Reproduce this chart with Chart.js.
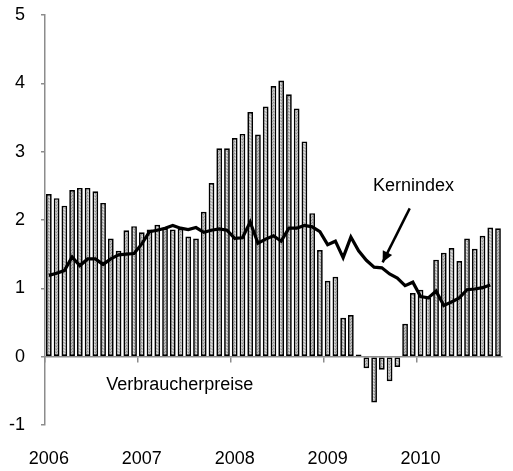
<!DOCTYPE html>
<html>
<head>
<meta charset="utf-8">
<script src="https://cdn.jsdelivr.net/npm/chart.js@4.4.1/dist/chart.umd.min.js"></script>
<style>
  html, body { margin: 0; padding: 0; background: #fff; }
  canvas { display: block; }
</style>
</head>
<body>
<canvas id="grafico" width="513" height="471"></canvas>
<script>
// Daten
const jahre = ['2006', '2007', '2008', '2009', '2010'];
const monate = ['01', '02', '03', '04', '05', '06', '07', '08', '09', '10', '11', '12'];
const yTicks = [-1, 0, 1, 2, 3, 4, 5];

// Verbraucherpreise (Balken), Jan 2006 - Nov 2010
const verbraucherpreise = [
  2.38, 2.32, 2.21, 2.44, 2.47, 2.47, 2.42, 2.25, 1.73, 1.55, 1.85, 1.91,
  1.82, 1.86, 1.93, 1.88, 1.86, 1.87, 1.76, 1.73, 2.12, 2.54, 3.05, 3.05,
  3.20, 3.26, 3.58, 3.25, 3.66, 3.96, 4.04, 3.84, 3.63, 3.15, 2.10, 1.56,
  1.11, 1.17, 0.57, 0.61, 0.03, -0.17, -0.67, -0.19, -0.36, -0.15, 0.48, 0.93,
  0.98, 0.86, 1.42, 1.52, 1.59, 1.40, 1.73, 1.58, 1.77, 1.89, 1.88
];

// Kernindex (Linie)
const kernindex = [
  1.19, 1.22, 1.26, 1.46, 1.33, 1.43, 1.43, 1.35, 1.43, 1.49, 1.50, 1.51,
  1.65, 1.83, 1.85, 1.88, 1.92, 1.88, 1.86, 1.89, 1.82, 1.85, 1.87, 1.85,
  1.73, 1.74, 1.97, 1.66, 1.72, 1.77, 1.69, 1.88, 1.88, 1.92, 1.90, 1.83,
  1.64, 1.69, 1.45, 1.75, 1.55, 1.41, 1.31, 1.30, 1.21, 1.15, 1.04, 1.09,
  0.88, 0.86, 0.96, 0.75, 0.80, 0.86, 0.98, 0.99, 1.01, 1.05, null
];

// Monatslabels aus Jahren bauen (nur so viele wie Werte)
const labels = [];
jahre.forEach(j => monate.forEach(m => labels.push(j + '-' + m)));
labels.length = verbraucherpreise.length;

const schrift = "'Liberation Sans', Arial, sans-serif";
const achsenFarbe = '#8c8c8c';

// Punktiertes Grau für die Balken
function musterErzeugen() {
  const c = document.createElement('canvas');
  c.width = 3; c.height = 3;
  const g = c.getContext('2d');
  g.fillStyle = '#bcbcbc';
  g.fillRect(0, 0, 3, 3);
  g.fillStyle = '#8e8e8e';
  g.fillRect(0, 0, 1, 1);
  g.fillRect(2, 1, 1, 1);
  g.fillStyle = '#e2e2e2';
  g.fillRect(1, 2, 1, 1);
  return g.createPattern(c, 'repeat');
}

// Beschriftungen und Pfeil
const beschriftung = {
  id: 'beschriftung',
  afterDatasetsDraw(chart) {
    const { ctx, scales: { x, y } } = chart;
    ctx.save();
    ctx.font = '18px ' + schrift;
    ctx.fillStyle = '#000';
    ctx.textAlign = 'center';
    ctx.textBaseline = 'middle';
    ctx.fillText('Kernindex', x.getPixelForValue(47.1), y.getPixelForValue(2.49));
    ctx.fillText('Verbraucherpreise', x.getPixelForValue(16.9), y.getPixelForValue(-0.41));

    // Pfeil
    const x1 = x.getPixelForValue(46.6), y1 = y.getPixelForValue(2.17);
    const x2 = x.getPixelForValue(43.1), y2 = y.getPixelForValue(1.38);
    ctx.strokeStyle = '#000';
    ctx.lineWidth = 2.5;
    ctx.beginPath();
    ctx.moveTo(x1, y1);
    ctx.lineTo(x2, y2);
    ctx.stroke();
    const w = Math.atan2(y2 - y1, x2 - x1);
    const l = 12;
    ctx.beginPath();
    ctx.moveTo(x2, y2);
    ctx.lineTo(x2 - l * Math.cos(w - 0.45), y2 - l * Math.sin(w - 0.45));
    ctx.lineTo(x2 - l * Math.cos(w + 0.45), y2 - l * Math.sin(w + 0.45));
    ctx.closePath();
    ctx.fillStyle = '#000';
    ctx.fill();
    ctx.restore();
  }
};

const ctx = document.getElementById('grafico').getContext('2d');

new Chart(ctx, {
  type: 'bar',
  data: {
    labels,
    datasets: [
      {
        type: 'line',
        label: 'Kernindex',
        data: kernindex,
        borderColor: '#000',
        borderWidth: 3.2,
        pointRadius: 0,
        tension: 0,
        fill: false,
        order: 1
      },
      {
        label: 'Verbraucherpreise',
        data: verbraucherpreise,
        backgroundColor: musterErzeugen(),
        borderColor: '#000',
        borderWidth: 1.7,
        borderSkipped: false,
        barPercentage: 0.74,
        categoryPercentage: 1,
        order: 2
      }
    ]
  },
  options: {
    responsive: false,
    animation: false,
    layout: { padding: 0 },
    scales: {
      x: {
        offset: true,
        grid: { display: false },
        border: { display: false },
        afterFit: s => { s.height = 46; },
        ticks: {
          autoSkip: false,
          maxRotation: 0,
          padding: 15,
          color: '#000',
          font: { family: schrift, size: 18 },
          callback: (v, i) => (i % 12 === 0 ? jahre[i / 12] : '')
        }
      },
      x2: {
        type: 'category',
        position: { y: 0 },
        offset: true,
        grid: {
          offset: true,
          drawOnChartArea: false,
          drawTicks: true,
          tickLength: 5,
          lineWidth: 1.5,
          color: c => (c.index % 12 === 0 ? achsenFarbe : 'rgba(0,0,0,0)')
        },
        border: { display: true, color: achsenFarbe, width: 1.5 },
        ticks: { display: false, autoSkip: false }
      },
      y: {
        min: -1,
        max: 5,
        afterBuildTicks: s => { s.ticks = yTicks.map(v => ({ value: v })); },
        afterFit: s => { s.width = 45; s.paddingTop = 15; s.paddingBottom = 0; },
        grid: {
          drawOnChartArea: false,
          drawTicks: true,
          tickLength: 4,
          lineWidth: 1.5,
          color: achsenFarbe
        },
        border: { display: true, color: achsenFarbe, width: 1.5 },
        ticks: {
          padding: 16,
          color: '#000',
          font: { family: schrift, size: 18 }
        }
      }
    },
    plugins: {
      legend: { display: false },
      tooltip: { enabled: false }
    }
  },
  plugins: [beschriftung]
});
</script>
</body>
</html>
